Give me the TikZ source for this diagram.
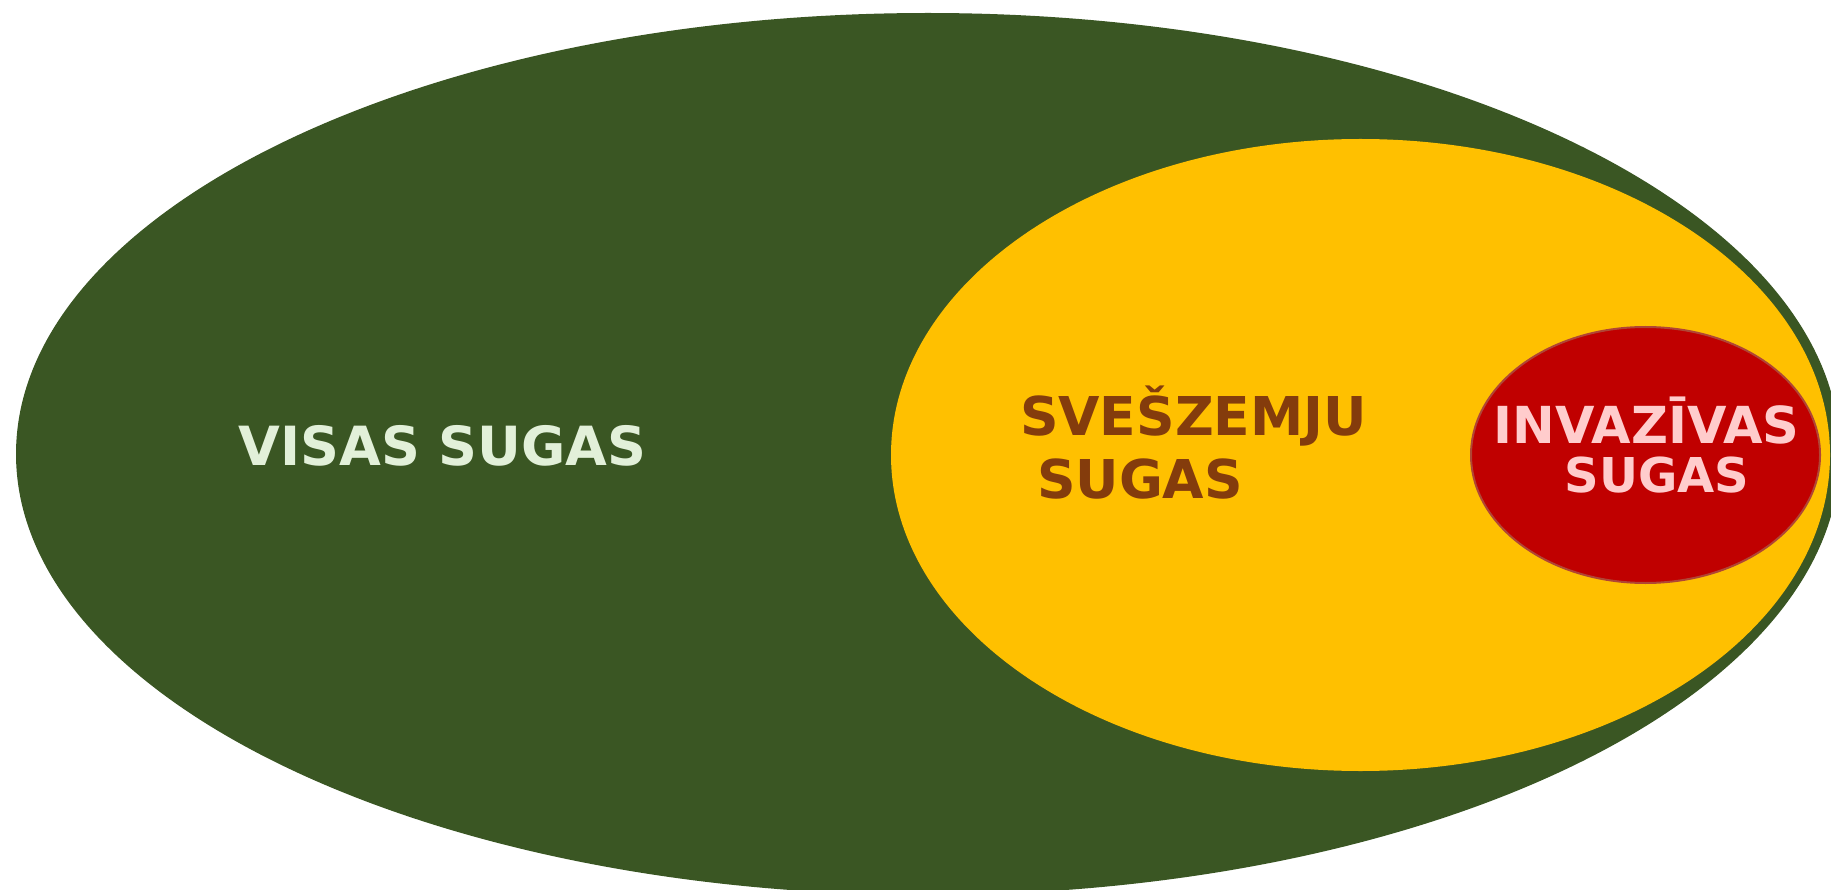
\documentclass[tikz,border=0pt]{standalone}
\usepackage{fontspec}
\setmainfont{DejaVu Sans}
\usetikzlibrary{shapes.geometric}
\definecolor{darkgreen}{HTML}{3A5623}
\definecolor{lightgreen}{HTML}{E2F0D9}
\definecolor{gold}{HTML}{FFC000}
\definecolor{brownt}{HTML}{843C0C}
\definecolor{redfill}{HTML}{C00000}
\definecolor{redline}{HTML}{B04535}
\definecolor{pinkt}{HTML}{FFCCCC}
\tikzset{
  blob/.style={ellipse, inner sep=0pt, outer sep=0pt},
  lbl/.style={anchor=base, inner sep=0pt, font=\bfseries}
}
\begin{document}
\begin{tikzpicture}[x=1pt,y=-1pt]
\useasboundingbox (0,0) rectangle (1831,890);
\clip (0,0) rectangle (1831,890);
\fill[white] (0,0) rectangle (1831,890);
\node[blob, fill=darkgreen, minimum width=1824pt, minimum height=882pt] (all) at (928,454) {};
\node[blob, fill=gold, minimum width=939pt, minimum height=632pt] (alien) at (1360.5,455) {};
\node[blob, fill=redfill, draw=redline, line width=2pt, minimum width=349pt, minimum height=256pt] (inv) at (1645.5,455) {};
\node[lbl, text=lightgreen, font=\fontsize{54}{60}\selectfont\bfseries] (t1) at (442.5,465) {VISAS SUGAS};
\node[lbl, text=brownt, font=\fontsize{53.5}{60}\selectfont\bfseries] (t2a) at (1193.5,435) {SVEŠZEMJU};
\node[lbl, text=brownt, font=\fontsize{53.5}{60}\selectfont\bfseries] (t2b) at (1140,498) {SUGAS};
\node[lbl, text=pinkt, font=\fontsize{51}{55}\selectfont\bfseries] (t3a) at (1646.5,443) {INVAZĪVAS};
\node[lbl, text=pinkt, font=\fontsize{48}{55}\selectfont\bfseries] (t3b) at (1657,492) {SUGAS};
\end{tikzpicture}
\end{document}
